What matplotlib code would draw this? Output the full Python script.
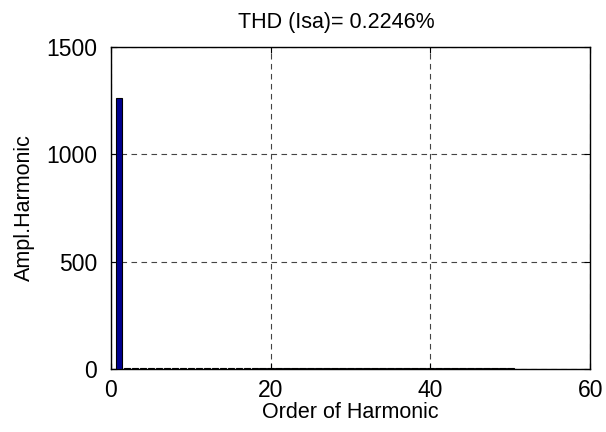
import matplotlib.pyplot as plt
import numpy as np

plt.rcParams['font.family'] = ['Liberation Sans', 'DejaVu Sans']

# orden de armonico y amplitud
orden = np.arange(1, 51)
amplitud = [1265, 3.5, 2.8, 3.2, 4.0, 2.6, 3.8, 2.5, 2.9, 2.4,
            3.1, 2.5, 3.3, 2.4, 2.7, 2.3, 2.9, 2.3, 2.8, 2.3,
            2.6, 2.3, 2.7, 2.2, 2.6, 2.2, 2.5, 2.2, 2.5, 2.2,
            2.4, 2.2, 2.4, 2.2, 2.4, 2.2, 2.3, 2.2, 2.3, 2.2,
            2.3, 2.1, 2.3, 2.1, 2.3, 2.1, 2.2, 2.1, 2.2, 2.1]
thd = 0.2246

fig = plt.figure(figsize=(6.06, 4.32), dpi=100)
ax = fig.add_axes([0.183, 0.146, 0.791, 0.745])

ax.bar(orden, amplitud, width=0.8, color='#00008F', edgecolor='black', linewidth=0.8, zorder=3)

ax.set_xlim(0, 60)
ax.set_ylim(0, 1500)
ax.set_xticks([0, 20, 40, 60])
ax.set_yticks([0, 500, 1000, 1500])
ax.grid(True, linestyle=(0, (5, 4)), color='#444444', linewidth=0.8)
ax.tick_params(direction='in', labelsize=16.5, length=4, top=True, right=True)
ax.tick_params(axis='y', pad=10)
ax.tick_params(axis='x', pad=7)
for s in ax.spines.values():
    s.set_linewidth(1.0)

ax.set_title('THD (Isa)= %.4f%%' % thd, fontsize=15.5, pad=14, x=0.47)
ax.set_xlabel('Order of Harmonic', fontsize=15.5, labelpad=0)
ax.set_ylabel('Ampl.Harmonic', fontsize=15.5, labelpad=8)

fig.savefig('out.png', dpi=100)
